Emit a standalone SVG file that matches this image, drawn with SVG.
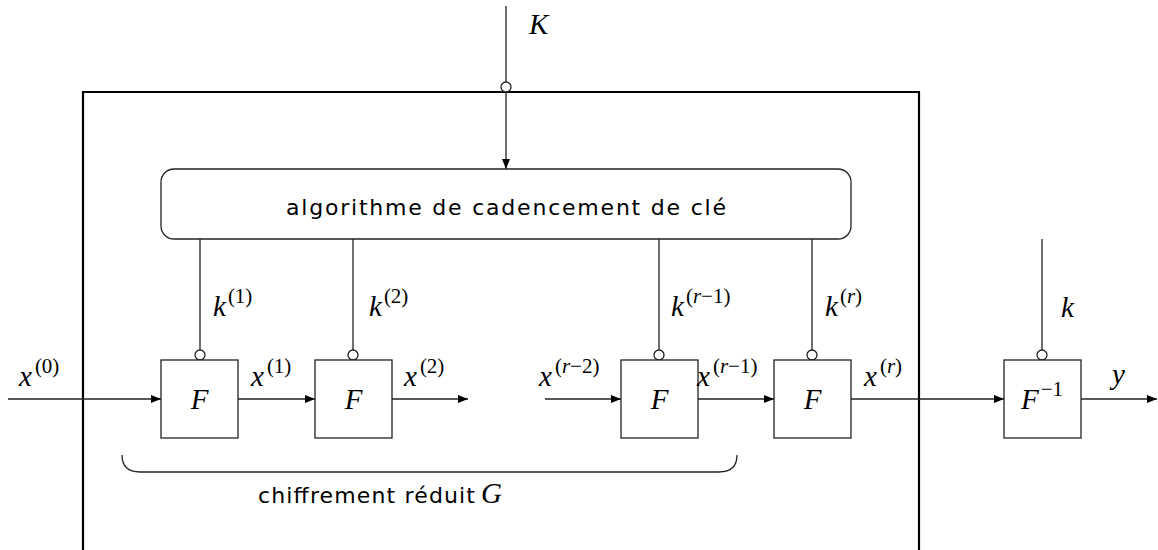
<svg xmlns="http://www.w3.org/2000/svg" width="1158" height="550" viewBox="0 0 1158 550">
<defs>
<style>
.ln{stroke:#222;stroke-width:1.3;fill:none}
.bx{stroke:#222;stroke-width:1.3;fill:#fff}
.cc{stroke:#222;stroke-width:1.3;fill:#fff}
.m{font-family:"Liberation Serif",serif;font-style:italic;font-size:29px;fill:#000}
.s{font-family:"Liberation Serif",serif;font-style:normal;font-size:21px;fill:#000}
.si{font-style:italic}
.t{font-family:"DejaVu Sans","Liberation Sans",sans-serif;font-size:22px;fill:#000}
</style>
<marker id="ar" viewBox="0 0 10 8" refX="10" refY="4" markerWidth="10" markerHeight="8" markerUnits="userSpaceOnUse" orient="auto">
<path d="M0,0 L10,4 L0,8 Z" fill="#000"/>
</marker>
</defs>
<rect width="1158" height="550" fill="#fff"/>
<g id="outer">
<path d="M83,552 V92 H919 V552" fill="none" stroke="#000" stroke-width="2.2"/>
</g>
<g id="connectors">
<line class="ln" x1="506" y1="6" x2="506" y2="82"/>
<line class="ln" x1="506" y1="92" x2="506" y2="169" marker-end="url(#ar)"/>
<line class="ln" x1="200" y1="239" x2="200" y2="351"/>
<line class="ln" x1="353" y1="239" x2="353" y2="351"/>
<line class="ln" x1="659" y1="239" x2="659" y2="351"/>
<line class="ln" x1="812" y1="239" x2="812" y2="351"/>
<line class="ln" x1="1042" y1="239" x2="1042" y2="351"/>
<line class="ln" x1="8" y1="399" x2="161" y2="399" marker-end="url(#ar)"/>
<line class="ln" x1="238" y1="399" x2="315" y2="399" marker-end="url(#ar)"/>
<line class="ln" x1="392" y1="399" x2="468" y2="399" marker-end="url(#ar)"/>
<line class="ln" x1="545" y1="399" x2="621" y2="399" marker-end="url(#ar)"/>
<line class="ln" x1="698" y1="399" x2="774" y2="399" marker-end="url(#ar)"/>
<line class="ln" x1="851" y1="399" x2="1004" y2="399" marker-end="url(#ar)"/>
<line class="ln" x1="1081" y1="399" x2="1157" y2="399" marker-end="url(#ar)"/>
<circle class="cc" cx="506" cy="87" r="5"/>
<circle class="cc" cx="200" cy="355" r="5"/>
<circle class="cc" cx="353" cy="355" r="5"/>
<circle class="cc" cx="659" cy="355" r="5"/>
<circle class="cc" cx="812" cy="355" r="5"/>
<circle class="cc" cx="1042" cy="355" r="5"/>
</g>
<g id="keysched">
<rect class="bx" x="161" y="169" width="690" height="70" rx="13"/>
<text class="t" x="506" y="215" text-anchor="middle" textLength="440" lengthAdjust="spacing">algorithme de cadencement de clé</text>
</g>
<g id="F1"><rect class="bx" x="161" y="360" width="77" height="78"/><text class="m" x="199.5" y="409" text-anchor="middle">F</text></g>
<g id="F2"><rect class="bx" x="315" y="360" width="77" height="78"/><text class="m" x="353.5" y="409" text-anchor="middle">F</text></g>
<g id="F3"><rect class="bx" x="621" y="360" width="77" height="78"/><text class="m" x="659.5" y="409" text-anchor="middle">F</text></g>
<g id="F4"><rect class="bx" x="774" y="360" width="77" height="78"/><text class="m" x="812.5" y="409" text-anchor="middle">F</text></g>
<g id="Finv"><rect class="bx" x="1004" y="360" width="77" height="78"/><text class="m" x="1021" y="409">F<tspan class="s" dx="2" dy="-13">−1</tspan></text></g>
<g id="labels">
<text class="m" x="529" y="34">K</text>
<text class="m" x="213" y="316">k<tspan class="s" dx="2" dy="-13">(1)</tspan></text>
<text class="m" x="369" y="316">k<tspan class="s" dx="2" dy="-13">(2)</tspan></text>
<text class="m" x="671" y="316">k<tspan class="s" dx="2" dy="-13">(<tspan class="si">r</tspan>−1)</tspan></text>
<text class="m" x="825" y="316">k<tspan class="s" dx="2" dy="-13">(<tspan class="si">r</tspan>)</tspan></text>
<text class="m" x="1061" y="317">k</text>
<text class="m" x="19" y="386">x<tspan class="s" dx="3" dy="-13">(0)</tspan></text>
<text class="m" x="251" y="386">x<tspan class="s" dx="3" dy="-13">(1)</tspan></text>
<text class="m" x="404" y="386">x<tspan class="s" dx="3" dy="-13">(2)</tspan></text>
<text class="m" x="539" y="386">x<tspan class="s" dx="3" dy="-13">(<tspan class="si">r</tspan>−2)</tspan></text>
<text class="m" x="697" y="386">x<tspan class="s" dx="3" dy="-13">(<tspan class="si">r</tspan>−1)</tspan></text>
<text class="m" x="864" y="386">x<tspan class="s" dx="3" dy="-13">(<tspan class="si">r</tspan>)</tspan></text>
<text class="m" x="1112" y="384">y</text>
</g>
<g id="brace">
<path class="ln" d="M122,455 Q122,472 140,472 H719 Q737,472 737,455"/>
<text class="t" x="258" y="503" textLength="217" lengthAdjust="spacing">chiffrement réduit</text>
<text class="m" x="481" y="503">G</text>
</g>
</svg>
